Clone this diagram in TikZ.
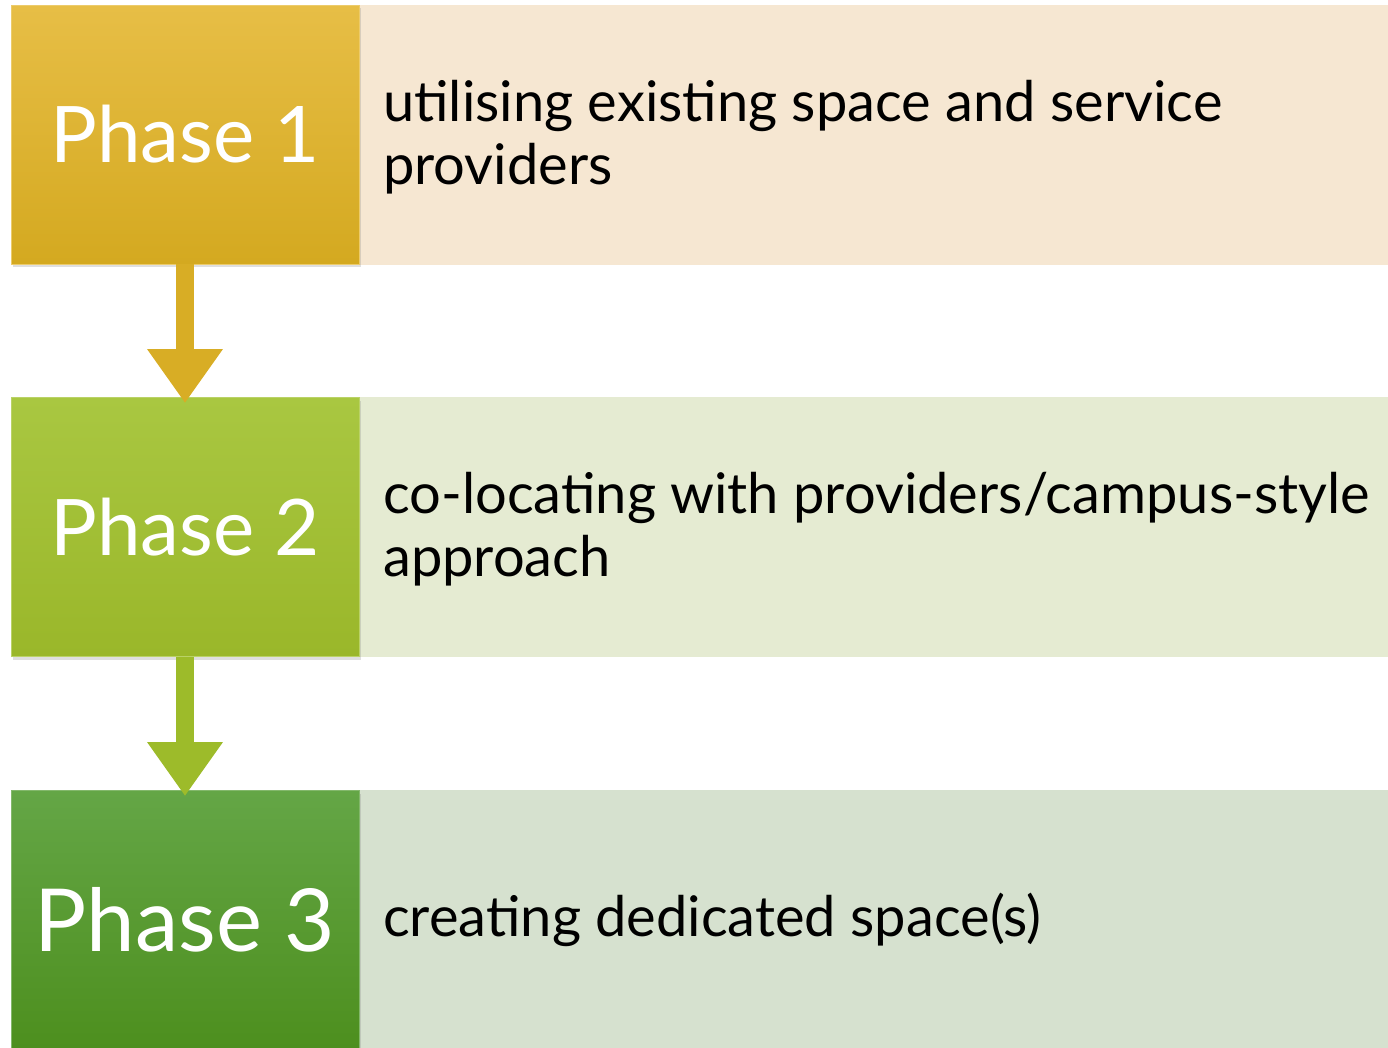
\documentclass[tikz,border=0pt]{standalone}
\usepackage{fontspec}
\setmainfont{Lato}
\usetikzlibrary{arrows.meta,shadows}

\definecolor{goldtop}{HTML}{E7BE46}
\definecolor{goldbot}{HTML}{D4A920}
\definecolor{goldarrow}{HTML}{D8AD25}
\definecolor{goldpanel}{HTML}{F6E7D2}
\definecolor{limetop}{HTML}{A9C741}
\definecolor{limebot}{HTML}{9AB72A}
\definecolor{limearrow}{HTML}{9DBB2A}
\definecolor{limepanel}{HTML}{E5EBD2}
\definecolor{greentop}{HTML}{64A646}
\definecolor{greenbot}{HTML}{4D8F1E}
\definecolor{greenpanel}{HTML}{D6E1CF}

\tikzset{
  phase/.style={minimum width=348pt, minimum height=259pt, inner sep=0pt, text=white,
    draw=#1top!80!white, line width=0.8pt, top color=#1top, bottom color=#1bot,
    drop shadow={opacity=.25, shadow xshift=2pt, shadow yshift=-3pt}},
  panel/.style={minimum width=1029pt, minimum height=260pt, inner sep=0pt, fill=#1panel},
  desc/.style={anchor=west, align=left, inner sep=0pt, font=\fontsize{56}{63}\selectfont},
  flow/.style={line width=18pt, draw=#1arrow, -{Triangle[width=72pt,length=54pt]}},
}

\begin{document}
\begin{tikzpicture}[x=1pt, y=-1pt]
    \useasboundingbox (0,0) rectangle (1388,1047);
    \clip (0,0) rectangle (1388,1047);

    % Paineis de texto
    \node[panel=gold] (q1) at (873.5,135) {};
    \node[panel=lime] (q2) at (873.5,527) {};
    \node[panel=green] (q3) at (873.5,920) {};

    % Fases
    \node[phase=gold, font=\fontsize{78}{78}\selectfont] (p1) at (185,134.5) {Phase 1};
    \node[phase=lime, font=\fontsize{78}{78}\selectfont] (p2) at (185,527) {Phase 2};
    \node[phase=green, font=\fontsize{87}{87}\selectfont] (p3) at (185,920) {Phase 3};

    \node[desc] (t1) at (383,137) {utilising existing space and service\\providers};
    \node[desc] (t2) at (383,529) {co-locating with providers/campus-style\\approach};
    \node[desc] (t3) at (383,920) {creating dedicated space(s)};

    % Setas
    \draw[flow=gold] (p1.south) -- ([yshift=-6pt]p2.north);
    \draw[flow=lime] (p2.south) -- ([yshift=-6pt]p3.north);
\end{tikzpicture}
\end{document}
